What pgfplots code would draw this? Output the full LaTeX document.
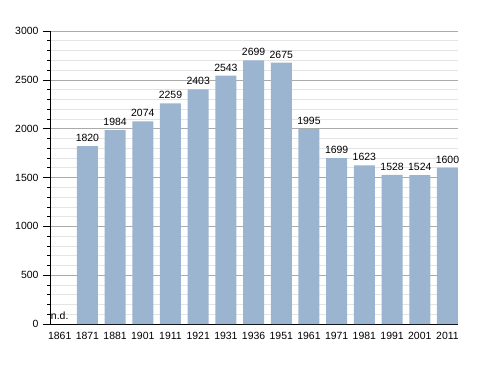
\documentclass[border=0pt]{standalone}
\usepackage{pgfplots}
\pgfplotsset{compat=1.18}
\usepackage{fontspec}
\setmainfont{Liberation Sans}
\definecolor{barblue}{RGB}{155,180,208}
\definecolor{majgrid}{RGB}{170,170,170}
\definecolor{mingrid}{RGB}{228,228,228}
\begin{document}
\begin{tikzpicture}
\useasboundingbox (0,0) rectangle (488bp,373bp);
\begin{axis}[
  at={(50bp,49bp)}, anchor=south west,
  scale only axis, width=408bp, height=293bp,
  xmin=-0.35, xmax=14.38, ymin=0, ymax=3000,
  axis x line*=bottom, axis y line*=left,
  axis line style={black, line width=0.8pt},
  xtick={0,...,14},
  xticklabels={1861,1871,1881,1901,1911,1921,1931,1936,1951,1961,1971,1981,1991,2001,2011},
  x tick style={draw=none},
  ytick={0,500,...,3000},
  minor ytick={100,200,...,2900},
  ymajorgrids, yminorgrids,
  major grid style={majgrid, line width=0.6pt},
  minor grid style={mingrid, line width=0.6pt},
  y tick style={black, line width=0.6pt},
  tick align=outside,
  major tick length=7bp, minor tick length=3bp,
  yticklabel style={xshift=-1bp},
  xticklabel style={yshift=2.5bp},
  tick label style={font=\fontsize{10.5}{12}\selectfont},
  /pgf/number format/assume math mode=true,
  /pgf/number format/set thousands separator={},
  clip=false,
]
\addplot[ybar, fill=barblue, draw=none, bar width=21bp, bar shift=0pt,
  nodes near coords,
  every node near coord/.append style={font=\fontsize{10.5}{12}\selectfont, anchor=south, yshift=1bp, black},
  /pgf/number format/assume math mode=true,
  /pgf/number format/set thousands separator={}]
coordinates {(1,1820) (2,1984) (3,2074) (4,2259) (5,2403) (6,2543) (7,2699) (8,2675) (9,1995) (10,1699) (11,1623) (12,1528) (13,1524) (14,1600)};
\node[anchor=south, font=\fontsize{10.5}{12}\selectfont, inner sep=1bp, yshift=3bp] at (axis cs:0,0) {n.d.};
\end{axis}
\end{tikzpicture}
\end{document}
